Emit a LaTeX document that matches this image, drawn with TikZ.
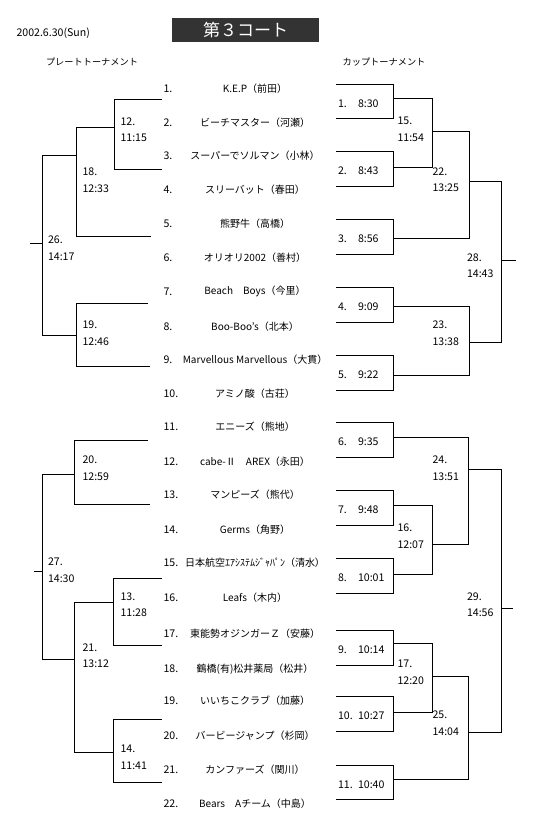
\documentclass[tikz,border=0pt]{standalone}
\usepackage{fontspec}
\setmainfont{Noto Sans CJK JP}
\usepackage{xcolor}
\definecolor{titlegray}{HTML}{333333}

\begin{document}
\begin{tikzpicture}[x=1pt,y=-1pt,line width=1pt,
  team/.style={inner sep=0pt,font=\fontsize{10}{12}\selectfont},
  num/.style={anchor=west,inner sep=0pt,font=\fontsize{10.6}{12}\selectfont},
  lbl/.style={anchor=west,inner sep=0pt,align=left,font=\fontsize{10.6}{16.5}\selectfont},
  head/.style={inner sep=0pt,font=\fontsize{9.2}{11}\selectfont}]
  \useasboundingbox (0,0) rectangle (548,839);

  \node[num] (date) at (16,33) {2002.6.30(Sun)};
  \node[fill=titlegray,text=white,minimum width=147pt,minimum height=24pt,inner sep=0pt,
        font=\fontsize{17}{17}\selectfont] (title) at (245.5,30) {第３コート};
  \node[head] (plate) at (92,62) {プレートトーナメント};
  \node[head] (cup) at (384,62) {カップトーナメント};

  \foreach \i/\y/\name in {1/84.3/{K.E.P（前田）}, 2/118.3/{ビーチマスター（河瀬）},
      3/151.3/{スーパーでソルマン（小林）}, 4/186/{スリーバット（春田）},
      5/219.3/{熊野牛（高橋）}, 6/254/{オリオリ2002（善村）},
      7/287.3/{Beach　Boys（今里）}, 8/322.3/{Boo-Boo's（北本）},
      9/355.7/{Marvellous Marvellous（大貫）}, 10/390/{アミノ酸（古荘）},
      11/422.7/{エニーズ（熊地）}, 12/457.3/{cabe-Ⅱ　AREX（永田）},
      13/490.7/{マンピーズ（熊代）}, 14/525.3/{Germs（角野）},
      15/558.7/{日本航空ｴｱｼｽﾃﾑｼﾞｬﾊﾟﾝ（清水）}, 16/593.3/{Leafs（木内）},
      17/630/{東能勢オジンガーＺ（安藤）}, 18/665/{鶴橋(有)松井薬局（松井）},
      19/696.7/{いいちこクラブ（加藤）}, 20/731.7/{バービージャンプ（杉岡）},
      21/765.7/{カンファーズ（関川）}, 22/799.3/{Bears　Aチーム（中島）}} {
    \node[num] (n\i) at (163,\y+4) {\i.};
    \node[team] (t\i) at (255,\y+4) {\name};
  }

  % cup tournament, first round
  \foreach \k/\t/\b/\tm in {1/84.3/118.3/8:30, 2/151.3/186/8:43, 3/219.3/254/8:56,
      4/287.3/322.3/9:09, 5/355.7/390/9:22, 6/422.7/457.3/9:35, 7/490.7/525.3/9:48,
      8/558.7/593.3/10:01, 9/630/665/10:14, 10/696.7/731.7/10:27, 11/765.7/799.3/10:40} {
    \draw (336,\t) -| (393.3,\b) -- (336,\b);
    \node[lbl] (c\k) at (337.5,{(\t+\b)/2+2}) {\k.};
    \node[lbl] (ct\k) at (357.5,{(\t+\b)/2+2}) {\tm};
  }

  \draw (393.3,98.3) -| (432.5,167.3) -- (393.3,167.3);
  \draw (432.5,131.7) -| (469.3,238.3) -- (393.3,238.3);
  \draw (393.3,306.7) -| (469.3,375) -- (393.3,375);
  \draw (469.3,181.7) -| (501.7,342.3) -- (469.3,342.3);
  \draw (501.7,260.7) -- (516,260.7);
  \draw (393.3,437.7) -| (468.3,544.3) -- (432.7,544.3);
  \draw (393.3,505.7) -| (432.7,574) -- (393.3,574);
  \draw (468.3,469.3) -| (501.7,732.3) -- (468.3,732.3);
  \draw (501.7,608.3) -- (513.3,608.3);
  \draw (393.3,643.3) -| (432.7,712.3) -- (393.3,712.3);
  \draw (432.7,676) -| (468.3,779) -- (393.3,779);

  \node[lbl] (m15) at (397,129.2) {15.\\11:54};
  \node[lbl] (m22) at (432,179.8) {22.\\13:25};
  \node[lbl] (m23) at (432,333.3) {23.\\13:38};
  \node[lbl] (m28) at (466.5,265.5) {28.\\14:43};
  \node[lbl] (m24) at (432,468) {24.\\13:51};
  \node[lbl] (m16) at (397,536) {16.\\12:07};
  \node[lbl] (m29) at (466.5,604.5) {29.\\14:56};
  \node[lbl] (m17) at (397,672.2) {17.\\12:20};
  \node[lbl] (m25) at (432,723.3) {25.\\14:04};

  % plate tournament
  \draw (161.7,99.3) -| (114.3,169) -- (161.7,169);
  \draw (114.3,127.3) -| (76.7,236.7) -- (151,236.7);
  \draw (76.7,155.3) -| (42.3,335) -- (76.7,335);
  \draw (30,243.3) -- (42.3,243.3);
  \draw (148,303.3) -| (76.7,366.7) -- (150,366.7);
  \draw (148,440.7) -| (74,504) -- (150,504);
  \draw (74,474.3) -| (42.3,659) -- (74,659);
  \draw (34.3,571.7) -- (42.3,571.7);
  \draw (113.3,602.3) -| (74,752.3) -- (113.3,752.3);
  \draw (161.7,578.3) -| (113.3,645.7) -- (161.7,645.7);
  \draw (161.7,719.3) -| (113.3,782.3) -- (161.7,782.3);

  \node[lbl] (m12) at (120,129.5) {12.\\11:15};
  \node[lbl] (m18) at (82,180.3) {18.\\12:33};
  \node[lbl] (m26) at (47.5,248) {26.\\14:17};
  \node[lbl] (m19) at (82,333) {19.\\12:46};
  \node[lbl] (m20) at (82,468.3) {20.\\12:59};
  \node[lbl] (m27) at (47.5,570.3) {27.\\14:30};
  \node[lbl] (m21) at (82,655.5) {21.\\13:12};
  \node[lbl] (m13) at (120,604.5) {13.\\11:28};
  \node[lbl] (m14) at (120,757.5) {14.\\11:41};
\end{tikzpicture}
\end{document}
